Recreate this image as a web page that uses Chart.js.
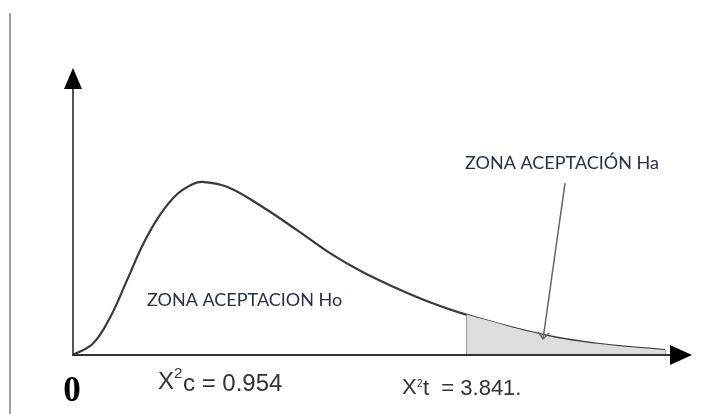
<!DOCTYPE html>
<html lang="es">
<head>
    <meta charset="UTF-8">
    <title>Chi cuadrado</title>
    <style>
        html, body { margin: 0; padding: 0; background: #fff; }
        #wrap { width: 718px; height: 414px; position: relative; }
    </style>
</head>
<body>
    <div id="wrap">
        <canvas id="chiChart" width="718" height="414"></canvas>
    </div>
    <script src="https://cdn.jsdelivr.net/npm/chart.js"></script>
    <script>
// curva (x en unidades chi², y en altura relativa 0-100)
const curveX = [0, 0.195, 0.360, 0.526, 0.682, 0.848, 1.014, 1.170, 1.267, 1.501, 1.852, 2.184, 2.505, 2.827, 3.159, 3.480, 3.841, 4.582, 5.137, 5.771];
const curveY = [0, 4.0, 13.0, 26.0, 38.5, 48.8, 56.0, 59.6, 60.3, 58.6, 51.5, 43.5, 35.5, 28.8, 23.2, 18.4, 14.0, 7.0, 3.8, 1.7];
const chiCalc = 0.954;
const chiTab = 3.841;
const xMax = 6.034;
const yMax = 100;
const labelHo = 'ZONA ACEPTACION Ho';
const labelHa = 'ZONA ACEPTACIÓN Ha';

const curve = curveX.map((x, i) => ({ x: x, y: curveY[i] }));
const tail = curve.filter(p => p.x >= chiTab);
const tailEnd = tail[tail.length - 1];

const axesPlugin = {
    id: 'axesArrows',
    afterDraw(chart) {
        const c = chart.ctx;
        const xs = chart.scales.x, ys = chart.scales.y;
        const x0 = xs.getPixelForValue(0), y0 = ys.getPixelForValue(0);
        const xEnd = xs.getPixelForValue(xMax), yTop = ys.getPixelForValue(yMax);
        c.save();

        // linea de la pagina a la izquierda
        c.strokeStyle = '#a0a0a0';
        c.lineWidth = 2;
        c.beginPath(); c.moveTo(10, 13); c.lineTo(10, 414); c.stroke();

        // ejes
        c.strokeStyle = '#555';
        c.lineWidth = 2;
        c.beginPath(); c.moveTo(x0, y0); c.lineTo(x0, yTop + 18); c.stroke();
        c.strokeStyle = '#333';
        c.beginPath(); c.moveTo(x0 - 1, y0); c.lineTo(xEnd - 20, y0); c.stroke();

        c.fillStyle = '#000';
        c.beginPath();
        c.moveTo(x0, yTop); c.lineTo(x0 - 9, yTop + 21); c.lineTo(x0 + 9, yTop + 21);
        c.closePath(); c.fill();
        c.beginPath();
        c.moveTo(xEnd, y0); c.lineTo(xEnd - 22, y0 - 10); c.lineTo(xEnd - 22, y0 + 10);
        c.closePath(); c.fill();

        // flecha de la zona Ha
        const ax = xs.getPixelForValue(4.582), ay = ys.getPixelForValue(7.0) + 4;
        const bx = xs.getPixelForValue(4.796), by = ys.getPixelForValue(59.9);
        c.strokeStyle = '#666';
        c.lineWidth = 1.5;
        c.beginPath(); c.moveTo(bx, by); c.lineTo(ax, ay); c.stroke();
        c.beginPath();
        c.moveTo(ax - 5, ay - 7); c.lineTo(ax, ay); c.lineTo(ax + 6, ay - 6); c.stroke();

        // textos
        c.textBaseline = 'middle';
        c.fillStyle = '#000';
        c.font = 'bold 35px "Liberation Serif"';
        c.textAlign = 'center';
        c.fillText('0', 72, 392);

        c.textAlign = 'left';
        c.fillStyle = '#26304a';
        c.font = '18px Lato';
        c.fillText(labelHo, 147, 300);
        c.fillText(labelHa, 465, 163);

        c.fillStyle = '#333';
        c.font = '24px "Liberation Sans"';
        c.fillText('X', 158, 382);
        c.font = '15px "Liberation Sans"';
        c.fillText('2', 174, 374);
        c.font = '24px "Liberation Sans"';
        c.fillText('c = ' + chiCalc.toFixed(3), 183, 384);

        c.font = '22px "Liberation Sans"';
        c.fillText('X', 402, 388);
        c.font = '10px "Liberation Sans"';
        c.fillText('2', 417, 384);
        c.font = '22px "Liberation Sans"';
        c.fillText('t  = ' + chiTab.toFixed(3) + '.', 423, 389);
        c.restore();
    }
};

const ctx = document.getElementById('chiChart').getContext('2d');
const chiChart = new Chart(ctx, {
    type: 'line',
    data: {
        datasets: [
            {
                label: 'zona Ha',
                data: tail,
                fill: 'origin',
                backgroundColor: '#dddddd',
                borderWidth: 0,
                pointRadius: 0,
                tension: 0.4
            },
            {
                label: 'borde izq',
                data: [{ x: chiTab, y: 0 }, { x: chiTab, y: tail[0].y }],
                borderColor: '#9a9a9a',
                borderWidth: 2,
                pointRadius: 0
            },
            {
                label: 'borde der',
                data: [{ x: tailEnd.x, y: 0 }, { x: tailEnd.x, y: tailEnd.y }],
                borderColor: '#9a9a9a',
                borderWidth: 2,
                pointRadius: 0
            },
            {
                label: 'chi cuadrado',
                data: curve,
                borderColor: '#3a3a3a',
                borderWidth: 2.2,
                pointRadius: 0,
                fill: false,
                tension: 0.4
            }
        ]
    },
    options: {
        responsive: false,
        animation: false,
        layout: { padding: { left: 73, right: 26, top: 68, bottom: 59 } },
        scales: {
            x: { type: 'linear', min: 0, max: xMax, display: false },
            y: { min: 0, max: yMax, display: false }
        },
        plugins: {
            legend: { display: false },
            tooltip: { enabled: false }
        }
    },
    plugins: [axesPlugin]
});
    </script>
</body>
</html>
